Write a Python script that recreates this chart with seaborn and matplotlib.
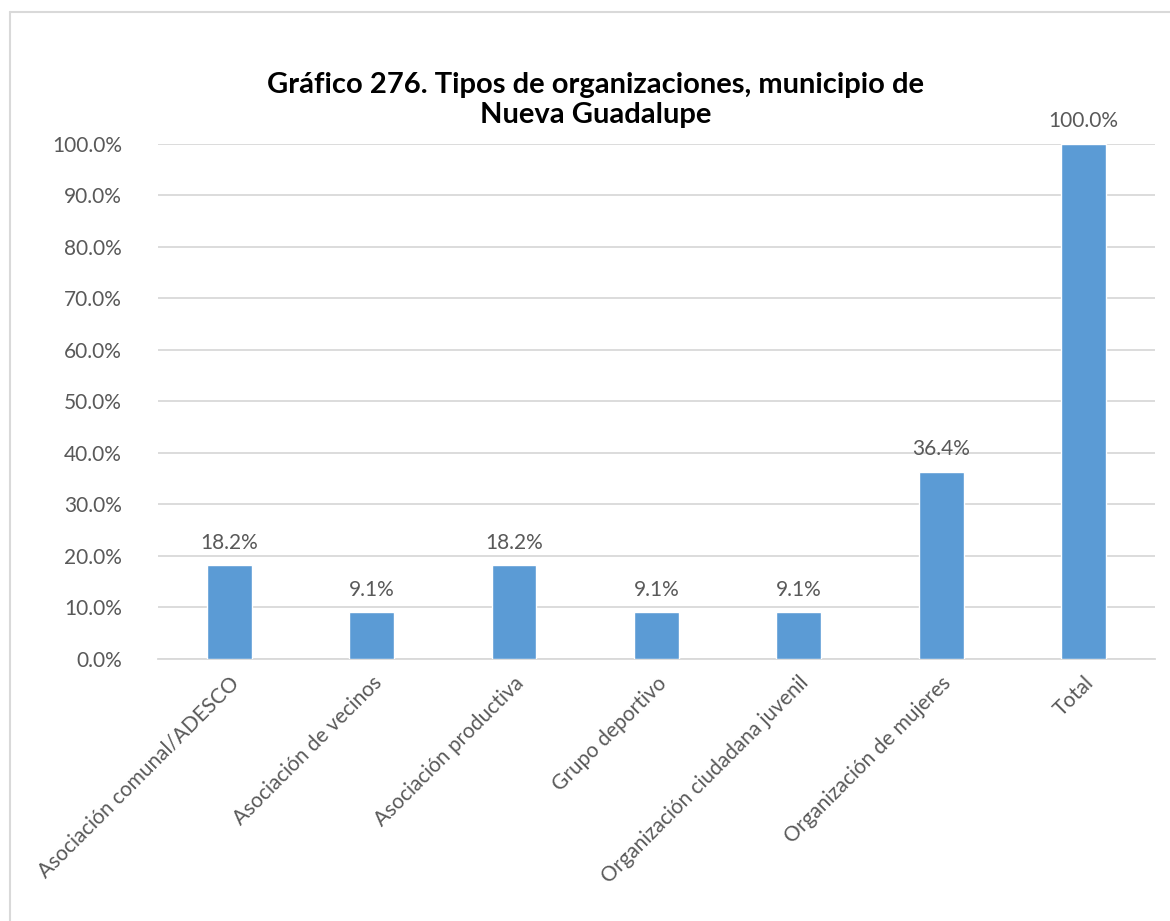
import matplotlib
matplotlib.use("Agg")
import matplotlib.pyplot as plt
import seaborn as sns
import pandas as pd
from matplotlib.lines import Line2D

# --- data ---
categories = [
    "Asociación comunal/ADESCO",
    "Asociación de vecinos",
    "Asociación productiva",
    "Grupo deportivo",
    "Organización ciudadana juvenil",
    "Organización de mujeres",
    "Total",
]
values = [18.2, 9.1, 18.2, 9.1, 9.1, 36.4, 100.0]
y_ticks = [0, 10, 20, 30, 40, 50, 60, 70, 80, 90, 100]

df = pd.DataFrame({"tipo": categories, "pct": values})

sns.set_style("white")
plt.rcParams["font.family"] = ["Lato", "DejaVu Sans"]

fig = plt.figure(figsize=(11.7, 9.21), dpi=100)
ax = fig.add_axes([0.135, 0.2845, 0.852, 0.5592])

sns.barplot(data=df, x="tipo", y="pct", color="#5B9BD5", width=0.315,
            saturation=1, ax=ax, zorder=3)

text_color = "#595959"
ax.set_ylim(0, 100)
ax.set_yticks(y_ticks)
ax.set_yticklabels([f"{t:.1f}%" for t in y_ticks], fontsize=15, color=text_color)
ax.set_xticklabels(categories, rotation=45, ha="right", rotation_mode="anchor",
                   fontsize=15, color=text_color)
ax.tick_params(axis="y", length=0, pad=26)
ax.tick_params(axis="x", length=0, pad=10)
ax.grid(axis="y", color="#D9D9D9", linewidth=1.3, zorder=0)
for s in ["top", "right", "left"]:
    ax.spines[s].set_visible(False)
ax.spines["bottom"].set_color("#D9D9D9")
ax.spines["bottom"].set_linewidth(1.3)
ax.set_xlabel("")
ax.set_ylabel("")

for i, v in enumerate(values):
    ax.annotate(f"{v:.1f}%", (i, v), xytext=(0, 9), textcoords="offset points",
                ha="center", va="bottom", fontsize=15, color=text_color)

fig.text(0.509, 0.9077, "Gráfico 276. Tipos de organizaciones, municipio de",
         ha="center", va="center", fontsize=21, fontweight="bold", color="black")
fig.text(0.509, 0.875, "Nueva Guadalupe",
         ha="center", va="center", fontsize=21, fontweight="bold", color="black")

# chart frame (only top and left edges visible in the crop)
x0, y0 = 10 / 1170, 1 - 12 / 921
fig.lines.append(Line2D([x0, x0], [0, y0], transform=fig.transFigure,
                        color="#D9D9D9", linewidth=1.5))
fig.lines.append(Line2D([x0, 1], [y0, y0], transform=fig.transFigure,
                        color="#D9D9D9", linewidth=1.5))

fig.savefig("out.png", dpi=100, facecolor="white")
